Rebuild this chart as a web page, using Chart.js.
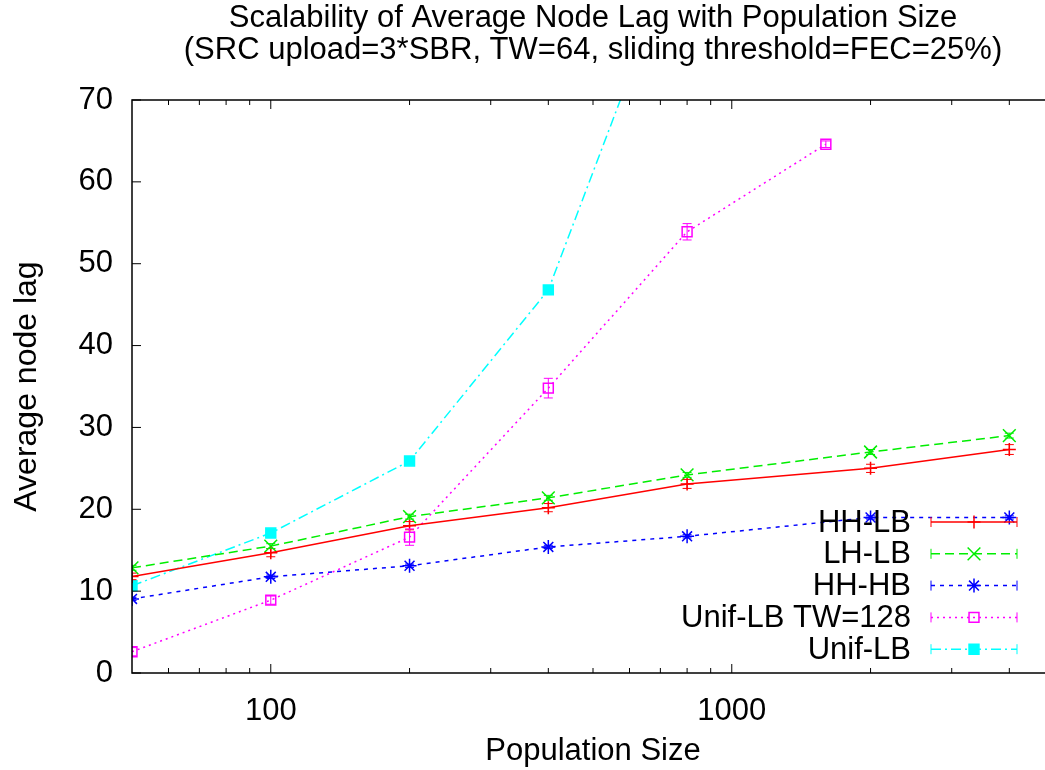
<!DOCTYPE html>
<html>
<head>
<meta charset="utf-8">
<title>Average Node Lag vs Population Size</title>
<script src="https://cdn.jsdelivr.net/npm/chart.js@4.4.1/dist/chart.umd.min.js"></script>
<style>
  html, body { margin: 0; padding: 0; background: #fff; overflow: hidden; }
  #wrap { width: 1065px; height: 770px; }
</style>
</head>
<body>
<div id="wrap"><canvas id="lag" width="1065" height="770"></canvas></div>
<script>
// population sizes and measured average lag per configuration
const popFull = [50, 100, 200, 400, 800, 2000, 4000];
const popTW128 = [50, 100, 200, 400, 800, 1600];
const popUnif = [50, 100, 200, 400, 800];

const lagHHLB = [11.8, 14.7, 18.0, 20.2, 23.1, 25.0, 27.3];
const errHHLB = [0.4, 0.5, 0.5, 0.5, 0.55, 0.5, 0.6];
const lagLHLB = [12.85, 15.5, 19.1, 21.4, 24.2, 27.0, 29.0];
const errLHLB = [0.3, 0.3, 0.3, 0.3, 0.3, 0.3, 0.3];
const lagHHHB = [9.05, 11.75, 13.1, 15.4, 16.7, 19.0, 19.0];
const errHHHB = [0.2, 0.2, 0.2, 0.2, 0.2, 0.2, 0.2];
const lagTW128 = [2.6, 8.9, 16.6, 34.8, 53.9, 64.6];
const errTW128 = [0.5, 0.5, 1.0, 1.2, 1.0, 0.4];
const lagUnif = [10.65, 17.1, 25.9, 46.8, 91.5];
const errUnif = [0.2, 0.2, 0.2, 0.2, 0.2];

const titleLines = [
  'Scalability of Average Node Lag with Population Size',
  '(SRC upload=3*SBR, TW=64, sliding threshold=FEC=25%)'
];
const xLabels = [100, 1000];
const xTickMarks = [60, 70, 80, 90, 100, 200, 300, 400, 500, 600, 700, 800, 900, 1000, 2000, 3000, 4000];
const yTickMarks = [0, 10, 20, 30, 40, 50, 60, 70];

const FONT = "'Liberation Sans', Arial, Helvetica, sans-serif";
const FS = 31;
Chart.defaults.font.family = FONT;
Chart.defaults.color = '#000';

function series(label, xs, ys, errs, color, dash, pointStyle, radius, filled) {
  return {
    label: label,
    data: xs.map((x, i) => ({ x: x, y: ys[i] })),
    errors: errs,
    borderColor: color,
    backgroundColor: color,
    borderWidth: 1.5,
    borderDash: dash,
    pointStyle: pointStyle,
    pointRadius: radius,
    pointBorderWidth: 1.5,
    pointBorderColor: color,
    pointBackgroundColor: filled ? color : 'rgba(0,0,0,0)',
    tension: 0,
    fill: false
  };
}

const datasets = [
  series('HH-LB', popFull, lagHHLB, errHHLB, '#ff0000', [], 'cross', 6.5, false),
  series('LH-LB', popFull, lagLHLB, errLHLB, '#00ee00', [9, 5], 'crossRot', 9, false),
  series('HH-HB', popFull, lagHHHB, errHHHB, '#0000ff', [4, 5], 'star', 7, false),
  series('Unif-LB TW=128', popTW128, lagTW128, errTW128, '#ff00ff', [2, 4], 'rect', 7, false),
  series('Unif-LB', popUnif, lagUnif, errUnif, '#00ffff', [10, 4, 2, 4], 'rect', 7, true)
];

function line(ctx, x0, y0, x1, y1) {
  ctx.beginPath();
  ctx.moveTo(x0, y0);
  ctx.lineTo(x1, y1);
  ctx.stroke();
}

// vertical error bars with small caps
const errorBars = {
  id: 'errorBars',
  afterDatasetsDraw(chart) {
    const { ctx, chartArea: a, scales: { x, y } } = chart;
    ctx.save();
    ctx.beginPath();
    ctx.rect(a.left, a.top, a.right - a.left, a.bottom - a.top);
    ctx.clip();
    ctx.lineWidth = 1;
    chart.data.datasets.forEach(ds => {
      ctx.strokeStyle = ds.borderColor;
      ds.errors.forEach((e, j) => {
        const p = ds.data[j];
        const px = x.getPixelForValue(p.x);
        const top = y.getPixelForValue(p.y + e);
        const bot = y.getPixelForValue(p.y - e);
        line(ctx, px, top, px, bot);
        line(ctx, px - 4.5, top, px + 4.5, top);
        line(ctx, px - 4.5, bot, px + 4.5, bot);
      });
    });
    ctx.restore();
  }
};

// plot frame, inward tick marks, title and key
const decor = {
  id: 'decor',
  afterDraw(chart) {
    const { ctx, chartArea: a, scales: { x, y } } = chart;
    ctx.save();
    ctx.strokeStyle = '#000';
    ctx.lineWidth = 1;
    yTickMarks.forEach(v => {
      const py = y.getPixelForValue(v);
      line(ctx, a.left, py, a.left + 9, py);
      line(ctx, a.right, py, a.right - 9, py);
    });
    xTickMarks.forEach(v => {
      const px = x.getPixelForValue(v);
      const len = xLabels.includes(v) ? 9 : 5;
      line(ctx, px, a.bottom, px, a.bottom - len);
      line(ctx, px, a.top, px, a.top + len);
    });
    ctx.lineWidth = 1.5;
    ctx.strokeRect(a.left, a.top, a.right - a.left, a.bottom - a.top);

    // title
    ctx.fillStyle = '#000';
    ctx.font = FS + 'px ' + FONT;
    ctx.textAlign = 'center';
    ctx.textBaseline = 'middle';
    const cx = (a.left + a.right) / 2;
    ctx.fillText(titleLines[0], cx, 18);
    ctx.fillText(titleLines[1], cx, 50);

    // key
    const textX = a.right - 143;
    const x0 = a.right - 123, x1 = a.right - 37, mx = (x0 + x1) / 2;
    ctx.textAlign = 'right';
    chart.data.datasets.forEach((ds, i) => {
      const ry = a.bottom - 151 + i * 31.8;
      ctx.fillStyle = '#000';
      ctx.fillText(ds.label, textX, ry + 1);
      ctx.strokeStyle = ds.borderColor;
      ctx.lineWidth = 1.5;
      ctx.setLineDash(ds.borderDash);
      line(ctx, x0, ry, x1, ry);
      ctx.setLineDash([]);
      ctx.lineWidth = 1;
      line(ctx, x0, ry - 5, x0, ry + 5);
      line(ctx, x1, ry - 5, x1, ry + 5);
      ctx.lineWidth = 1.5;
      ctx.fillStyle = ds.pointBackgroundColor;
      Chart.helpers.drawPoint(ctx, {
        pointStyle: ds.pointStyle, radius: ds.pointRadius, rotation: 0, borderWidth: 1.5
      }, mx, ry);
    });
    ctx.restore();
  }
};

new Chart(document.getElementById('lag').getContext('2d'), {
  type: 'line',
  data: { datasets: datasets },
  options: {
    responsive: false,
    animation: false,
    layout: { padding: { top: 100, right: 11, left: 0, bottom: 0 } },
    plugins: {
      legend: { display: false },
      title: { display: false },
      tooltip: { enabled: false }
    },
    scales: {
      x: {
        type: 'logarithmic',
        min: 50,
        max: 5000,
        grid: { display: false, drawTicks: false },
        border: { display: false },
        afterBuildTicks: scale => { scale.ticks = xLabels.map(v => ({ value: v })); },
        afterFit: scale => { scale.height = 97; },
        ticks: {
          autoSkip: false,
          maxRotation: 0,
          padding: 20,
          font: { size: FS },
          callback: v => String(v)
        },
        title: {
          display: true,
          text: 'Population Size',
          font: { size: FS },
          padding: { top: 0, bottom: 0 }
        }
      },
      y: {
        min: 0,
        max: 70,
        grid: { display: false, drawTicks: false },
        border: { display: false },
        afterFit: scale => { scale.width = 132; },
        ticks: { stepSize: 10, padding: 19, font: { size: FS } },
        title: {
          display: true,
          text: 'Average node lag',
          font: { size: 32 },
          padding: { top: 8, bottom: 0 }
        }
      }
    }
  },
  plugins: [errorBars, decor]
});
</script>
</body>
</html>
